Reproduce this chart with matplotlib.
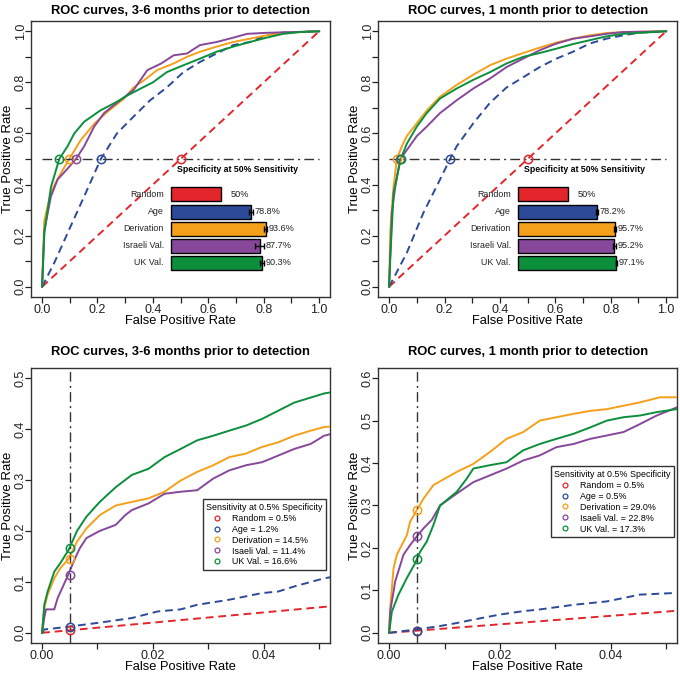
import matplotlib
matplotlib.use("Agg")
import matplotlib.pyplot as plt
from matplotlib.patches import Rectangle

plt.rcParams['font.family'] = ['Liberation Sans', 'DejaVu Sans']

# colours used for the five models
names = ['Random', 'Age', 'Derivation', 'Israeli Val.', 'UK Val.']
colors = ['#E3262C', '#2D4A98', '#F5A01A', '#87479A', '#0B8F3C']

# ---- top left: 3-6 months, full ROC ----
tl_age_fpr = [0, 0.044, 0.092, 0.152, 0.212, 0.27, 0.33, 0.39, 0.45, 0.51, 0.57, 0.63, 0.69, 0.75, 0.81, 0.87, 1.0]
tl_age_tpr = [0, 0.094, 0.21, 0.354, 0.50, 0.60, 0.666, 0.73, 0.78, 0.84, 0.88, 0.913, 0.946, 0.958, 0.984, 0.995, 1.0]
tl_der_fpr = [0, 0.008, 0.032, 0.06, 0.098, 0.14, 0.19, 0.236, 0.296, 0.33, 0.37, 0.415, 0.475, 0.523, 0.57, 0.63, 0.69, 0.75, 0.81, 0.87, 1.0]
tl_der_tpr = [0, 0.26, 0.37, 0.43, 0.50, 0.575, 0.64, 0.685, 0.737, 0.78, 0.81, 0.848, 0.874, 0.90, 0.92, 0.94, 0.958, 0.971, 0.984, 0.994, 1.0]
tl_isr_fpr = [0, 0.008, 0.032, 0.056, 0.09, 0.122, 0.152, 0.188, 0.224, 0.27, 0.33, 0.38, 0.43, 0.475, 0.523, 0.57, 0.63, 0.69, 0.74, 0.81, 1.0]
tl_isr_tpr = [0, 0.22, 0.354, 0.42, 0.46, 0.50, 0.55, 0.627, 0.68, 0.72, 0.77, 0.848, 0.874, 0.906, 0.913, 0.946, 0.958, 0.975, 0.99, 0.994, 1.0]
tl_uk_fpr = [0, 0.008, 0.032, 0.062, 0.092, 0.116, 0.152, 0.21, 0.27, 0.31, 0.356, 0.40, 0.45, 0.51, 0.57, 0.63, 0.69, 0.75, 0.81, 0.87, 0.93, 1.0]
tl_uk_tpr = [0, 0.21, 0.39, 0.50, 0.55, 0.60, 0.646, 0.69, 0.724, 0.75, 0.776, 0.80, 0.84, 0.867, 0.893, 0.92, 0.94, 0.958, 0.975, 0.99, 0.997, 1.0]
tl_mark_fpr = [0.5, 0.212, 0.098, 0.122, 0.062]
tl_spec = [50.0, 78.8, 93.6, 87.7, 90.3]
tl_err = [0.0, 2.0, 1.5, 4.5, 2.0]

# ---- top right: 1 month, full ROC ----
tr_age_fpr = [0, 0.064, 0.124, 0.184, 0.22, 0.244, 0.304, 0.364, 0.424, 0.484, 0.544, 0.604, 0.664, 0.724, 0.784, 0.844, 0.904, 1.0]
tr_age_tpr = [0, 0.133, 0.29, 0.42, 0.50, 0.55, 0.64, 0.72, 0.78, 0.82, 0.86, 0.893, 0.92, 0.952, 0.971, 0.984, 0.995, 1.0]
tr_der_fpr = [0, 0.004, 0.01, 0.016, 0.028, 0.046, 0.064, 0.1, 0.136, 0.184, 0.244, 0.304, 0.364, 0.424, 0.484, 0.544, 0.604, 0.664, 0.724, 0.784, 0.844, 1.0]
tr_der_tpr = [0, 0.21, 0.31, 0.39, 0.50, 0.55, 0.59, 0.64, 0.69, 0.744, 0.79, 0.83, 0.867, 0.893, 0.915, 0.936, 0.956, 0.971, 0.984, 0.993, 0.997, 1.0]
tr_isr_fpr = [0, 0.01, 0.022, 0.04, 0.064, 0.1, 0.136, 0.184, 0.244, 0.304, 0.364, 0.424, 0.484, 0.544, 0.604, 0.664, 0.724, 0.784, 0.844, 1.0]
tr_isr_tpr = [0, 0.29, 0.39, 0.50, 0.535, 0.59, 0.627, 0.68, 0.73, 0.776, 0.815, 0.86, 0.893, 0.926, 0.952, 0.971, 0.98, 0.99, 0.997, 1.0]
tr_uk_fpr = [0, 0.004, 0.016, 0.042, 0.064, 0.1, 0.136, 0.184, 0.244, 0.304, 0.364, 0.424, 0.484, 0.544, 0.604, 0.664, 0.724, 0.784, 0.844, 1.0]
tr_uk_tpr = [0, 0.107, 0.367, 0.50, 0.56, 0.627, 0.68, 0.737, 0.776, 0.81, 0.84, 0.874, 0.90, 0.915, 0.932, 0.95, 0.965, 0.98, 0.99, 1.0]
tr_mark_fpr = [0.5, 0.22, 0.028, 0.04, 0.042]
tr_spec = [50.0, 78.2, 95.7, 95.2, 97.1]
tr_err = [0.0, 1.0, 1.0, 1.5, 0.5]

# ---- bottom left: 3-6 months, low FPR region ----
bl_age_fpr = [0, 0.0004, 0.0048, 0.0104, 0.0162, 0.0209, 0.025, 0.028, 0.0338, 0.0397, 0.0426, 0.0455, 0.0509, 0.052]
bl_age_tpr = [0, 0.0065, 0.012, 0.02, 0.029, 0.042, 0.046, 0.055, 0.065, 0.078, 0.081, 0.091, 0.107, 0.109]
bl_der_fpr = [0, 0.0004, 0.001, 0.0022, 0.0033, 0.0048, 0.0063, 0.008, 0.0104, 0.0133, 0.0162, 0.0192, 0.0221, 0.025,
              0.028, 0.0309, 0.0338, 0.0368, 0.0397, 0.0426, 0.0455, 0.0485, 0.0509, 0.052]
bl_der_tpr = [0, 0.049, 0.075, 0.107, 0.127, 0.145, 0.179, 0.205, 0.231, 0.25, 0.257, 0.264, 0.277, 0.299,
              0.316, 0.329, 0.345, 0.352, 0.365, 0.374, 0.387, 0.397, 0.404, 0.405]
bl_isr_fpr = [0, 0.0004, 0.0007, 0.0022, 0.0028, 0.0046, 0.0057, 0.0068, 0.008, 0.0104, 0.0133, 0.015, 0.0162, 0.0192,
              0.0221, 0.025, 0.028, 0.0309, 0.0338, 0.0368, 0.0397, 0.0426, 0.0455, 0.0485, 0.0509, 0.052]
bl_isr_tpr = [0, 0.03, 0.046, 0.046, 0.068, 0.111, 0.14, 0.166, 0.186, 0.2, 0.212, 0.231, 0.241, 0.254,
              0.273, 0.277, 0.28, 0.303, 0.319, 0.329, 0.335, 0.348, 0.361, 0.371, 0.387, 0.39]
bl_uk_fpr = [0, 0.0004, 0.001, 0.0022, 0.0033, 0.0048, 0.0063, 0.008, 0.0104, 0.0133, 0.0162, 0.0192, 0.0221, 0.025,
             0.028, 0.0309, 0.0338, 0.0368, 0.0397, 0.0426, 0.0455, 0.0485, 0.0509, 0.052]
bl_uk_tpr = [0, 0.055, 0.081, 0.12, 0.137, 0.163, 0.2, 0.228, 0.257, 0.286, 0.31, 0.322, 0.345, 0.361,
             0.378, 0.387, 0.397, 0.407, 0.42, 0.436, 0.452, 0.462, 0.47, 0.472]
bl_mark_tpr = [0.005, 0.012, 0.145, 0.114, 0.166]
bl_legend = ['Random = 0.5%', 'Age = 1.2%', 'Derivation = 14.5%', 'Isaeli Val. = 11.4%', 'UK Val. = 16.6%']

# ---- bottom right: 1 month, low FPR region ----
br_age_fpr = [0, 0.005, 0.0092, 0.0122, 0.0152, 0.02, 0.0242, 0.0272, 0.0333, 0.0363, 0.0393, 0.0423, 0.0453, 0.0519]
br_age_tpr = [0, 0.008, 0.016, 0.023, 0.031, 0.043, 0.051, 0.055, 0.066, 0.07, 0.074, 0.082, 0.09, 0.094]
br_der_fpr = [0, 0.0002, 0.0008, 0.0014, 0.0023, 0.0032, 0.0038, 0.005, 0.0062, 0.008, 0.0092, 0.0122, 0.0152, 0.0182,
              0.0212, 0.0242, 0.0272, 0.0302, 0.0333, 0.0363, 0.0393, 0.0423, 0.0453, 0.0489, 0.0519]
br_der_tpr = [0, 0.059, 0.152, 0.184, 0.207, 0.23, 0.262, 0.289, 0.316, 0.348, 0.357, 0.379, 0.398, 0.426,
              0.457, 0.473, 0.5, 0.508, 0.516, 0.523, 0.527, 0.535, 0.543, 0.555, 0.555]
br_isr_fpr = [0, 0.0002, 0.0011, 0.0026, 0.0038, 0.005, 0.0062, 0.0077, 0.0092, 0.0122, 0.0152, 0.0182, 0.0212, 0.0242,
              0.0272, 0.0302, 0.0333, 0.0363, 0.0393, 0.0423, 0.0453, 0.0483, 0.0519]
br_isr_tpr = [0, 0.05, 0.121, 0.184, 0.207, 0.227, 0.246, 0.266, 0.3, 0.328, 0.355, 0.371, 0.387, 0.406,
              0.418, 0.4375, 0.445, 0.457, 0.465, 0.473, 0.492, 0.512, 0.531]
br_uk_fpr = [0, 0.0005, 0.0017, 0.0032, 0.0047, 0.0056, 0.0068, 0.008, 0.0092, 0.0122, 0.014, 0.0152, 0.0182, 0.0212,
             0.0242, 0.0272, 0.0302, 0.0333, 0.0363, 0.0393, 0.0423, 0.0453, 0.0483, 0.0519]
br_uk_tpr = [0, 0.05, 0.09, 0.129, 0.164, 0.191, 0.215, 0.254, 0.3, 0.332, 0.363, 0.387, 0.395, 0.402,
             0.43, 0.445, 0.457, 0.469, 0.484, 0.5, 0.508, 0.512, 0.52, 0.527]
br_mark_tpr = [0.005, 0.005, 0.29, 0.228, 0.173]
br_legend = ['Random = 0.5%', 'Age = 0.5%', 'Derivation = 29.0%', 'Isaeli Val. = 22.8%', 'UK Val. = 17.3%']

title_36 = 'ROC curves, 3-6 months prior to detection'
title_1 = 'ROC curves, 1 month prior to detection'

DASH = (0, (4, 2.5))
DASHDOT = (0, (7, 3, 1.5, 3))
LW = 1.4

fig = plt.figure(figsize=(6.8, 6.73), dpi=100)
ax_tl = fig.add_axes([0.0456, 0.5587, 0.44, 0.41])
ax_tr = fig.add_axes([0.5559, 0.5587, 0.44, 0.41])
ax_bl = fig.add_axes([0.0456, 0.0446, 0.44, 0.4086])
ax_br = fig.add_axes([0.5559, 0.0446, 0.44, 0.4086])


def style_axes(ax, xt, xl, yt, yl, xlim, ylim, title, title_pad):
    ax.set_xlim(*xlim)
    ax.set_ylim(*ylim)
    ax.set_xticks(xt)
    ax.set_xticklabels(xl)
    ax.set_yticks(yt)
    ax.set_yticklabels(yl, rotation=90, va='center')
    ax.tick_params(direction='out', length=4, width=0.9, labelsize=9, colors='#222222')
    ax.tick_params(axis='x', pad=1)
    ax.tick_params(axis='y', pad=-1)
    for s in ax.spines.values():
        s.set_linewidth(1.0)
        s.set_color('#333333')
    ax.set_xlabel('False Positive Rate', fontsize=9.3, labelpad=-1)
    ax.set_ylabel('True Positive Rate', fontsize=9.5)
    ax.yaxis.set_label_coords(-0.057, 0.5)
    ax.set_title(title, fontsize=9.3, fontweight='bold', pad=title_pad)


def draw_full(ax, curves, mark_fpr, spec, err):
    ax.plot([0, 1], [0, 1], color=colors[0], ls=DASH, lw=LW, zorder=2)
    fpr, tpr = curves[0]
    ax.plot(fpr, tpr, color=colors[1], ls=DASH, lw=LW, zorder=2)
    for i in (1, 2, 3):
        fpr, tpr = curves[i]
        ax.plot(fpr, tpr, color=colors[i + 1], lw=LW, zorder=3)
    ax.plot([0, 1], [0.5, 0.5], color='#333333', ls=DASHDOT, lw=1.0, zorder=4)
    for i in range(5):
        ax.plot(mark_fpr[i], 0.5, 'o', mfc='none', mec=colors[i], ms=6, mew=1.1, zorder=5)
    ax.text(0.486, 0.46, 'Specificity at 50% Sensitivity', fontsize=6.3, fontweight='bold',
            ha='left', va='center')
    # little bar chart of specificities
    x0, scale, h = 0.464, 0.366, 0.053
    ys = [0.363, 0.293, 0.227, 0.16, 0.094]
    for i in range(5):
        w = spec[i] / 100 * scale
        ax.add_patch(Rectangle((x0 + 0.004, ys[i] - h / 2 - 0.006), w, h, facecolor='#c8c8c8',
                               edgecolor='none', zorder=5))
        ax.add_patch(Rectangle((x0, ys[i] - h / 2), w, h, facecolor=colors[i], edgecolor='black',
                               lw=1.0, zorder=6))
        ax.text(x0 - 0.024, ys[i], names[i], fontsize=6.4, ha='right', va='center', color='#222222')
        end = x0 + w
        e = err[i] / 100 * scale
        if e > 0:
            ax.errorbar(end, ys[i], xerr=e, color='black', lw=1.0, capsize=2.2, capthick=1.0, zorder=7)
            tx = end + e + 0.006
        else:
            tx = end + 0.032
        ax.text(tx, ys[i], '%.1f%%' % spec[i] if spec[i] != 50 else '50%', fontsize=6.6,
                ha='left', va='center', color='#222222', zorder=8)


def draw_zoom(ax, curves, mark_tpr, labels, legend_anchor):
    ax.plot([0, 0.06], [0, 0.06], color=colors[0], ls=DASH, lw=LW, zorder=2)
    fpr, tpr = curves[0]
    ax.plot(fpr, tpr, color=colors[1], ls=DASH, lw=LW, zorder=2)
    for i in (1, 2, 3):
        fpr, tpr = curves[i]
        ax.plot(fpr, tpr, color=colors[i + 1], lw=LW, zorder=3)
    ax.axvline(0.005, color='#333333', ls=DASHDOT, lw=1.0, zorder=4)
    handles = []
    for i in range(5):
        ax.plot(0.005, mark_tpr[i], 'o', mfc='none', mec=colors[i], ms=6, mew=1.1, zorder=5)
        hnd, = ax.plot([], [], 'o', mfc='none', mec=colors[i], ms=3.5, mew=0.9, ls='none')
        handles.append(hnd)
    leg = ax.legend(handles, labels, title='Sensitivity at 0.5% Specificity', loc='upper right',
                    bbox_to_anchor=legend_anchor, fontsize=6.4, title_fontsize=6.4, frameon=True,
                    fancybox=False, edgecolor='#333333', framealpha=1, borderaxespad=0,
                    handlelength=2.4, handletextpad=0.5, labelspacing=0.22, borderpad=0.4)
    leg.get_frame().set_linewidth(1.0)
    leg._legend_box.align = 'left'


draw_full(ax_tl, [(tl_age_fpr, tl_age_tpr), (tl_der_fpr, tl_der_tpr), (tl_isr_fpr, tl_isr_tpr),
                  (tl_uk_fpr, tl_uk_tpr)], tl_mark_fpr, tl_spec, tl_err)
draw_full(ax_tr, [(tr_age_fpr, tr_age_tpr), (tr_der_fpr, tr_der_tpr), (tr_isr_fpr, tr_isr_tpr),
                  (tr_uk_fpr, tr_uk_tpr)], tr_mark_fpr, tr_spec, tr_err)
draw_zoom(ax_bl, [(bl_age_fpr, bl_age_tpr), (bl_der_fpr, bl_der_tpr), (bl_isr_fpr, bl_isr_tpr),
                  (bl_uk_fpr, bl_uk_tpr)], bl_mark_tpr, bl_legend, (0.987, 0.523))
draw_zoom(ax_br, [(br_age_fpr, br_age_tpr), (br_der_fpr, br_der_tpr), (br_isr_fpr, br_isr_tpr),
                  (br_uk_fpr, br_uk_tpr)], br_mark_tpr, br_legend, (0.99, 0.643))

full_t = [i / 10 for i in range(11)]
full_l = ['%.1f' % v if i % 2 == 0 else '' for i, v in enumerate(full_t)]
for ax, t in ((ax_tl, title_36), (ax_tr, title_1)):
    style_axes(ax, full_t, full_l, full_t, full_l, (-0.04, 1.04), (-0.04, 1.04), t, 5)

zx = [0, 0.01, 0.02, 0.03, 0.04, 0.05]
zxl = ['0.00', '', '0.02', '', '0.04', '']
style_axes(ax_bl, zx, zxl, [0, 0.1, 0.2, 0.3, 0.4, 0.5], ['0.0', '0.1', '0.2', '0.3', '0.4', '0.5'],
           (-0.002, 0.052), (-0.02, 0.52), title_36, 9)
style_axes(ax_br, zx, zxl, [0, 0.1, 0.2, 0.3, 0.4, 0.5, 0.6],
           ['0.0', '0.1', '0.2', '0.3', '0.4', '0.5', '0.6'],
           (-0.002, 0.052), (-0.024, 0.624), title_1, 9)

fig.savefig('out.png', dpi=100)
